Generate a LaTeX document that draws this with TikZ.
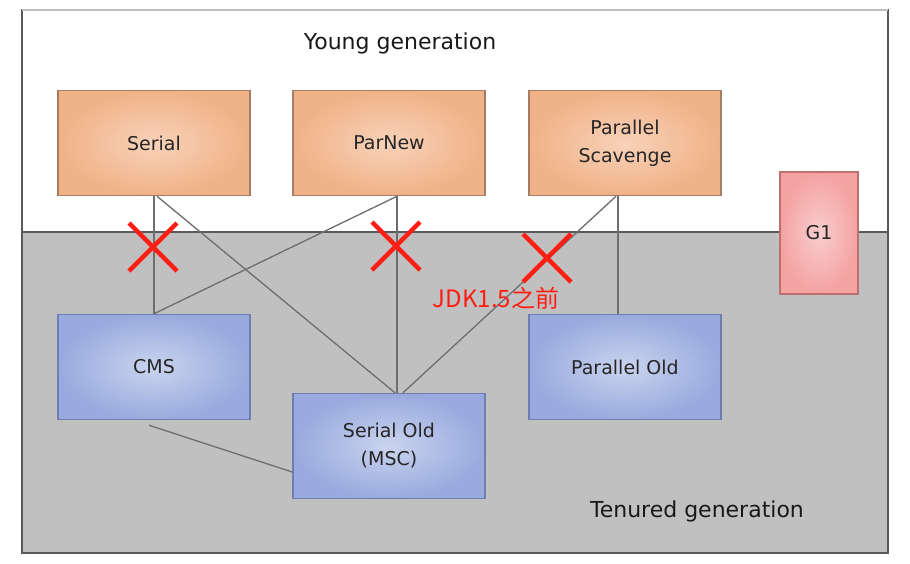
\documentclass[tikz,border=0pt]{standalone}
\usepackage{fontspec}
\setmainfont{DejaVu Sans}
\newfontfamily\cjkfuente{Noto Sans CJK SC}

\definecolor{naranjaBorde}{RGB}{165,125,100}
\definecolor{naranjaOscuro}{RGB}{240,178,135}
\definecolor{naranjaClaro}{RGB}{248,210,186}
\definecolor{azulBorde}{RGB}{110,125,178}
\definecolor{azulOscuro}{RGB}{152,170,222}
\definecolor{azulClaro}{RGB}{202,212,238}
\definecolor{rosaBorde}{RGB}{190,112,112}
\definecolor{rosaOscuro}{RGB}{244,162,162}
\definecolor{rosaClaro}{RGB}{249,205,205}
\definecolor{fondoGris}{RGB}{192,192,192}
\definecolor{lineaGris}{RGB}{110,110,110}
\definecolor{rojoCruz}{RGB}{255,30,20}

\tikzset{
  caja/.style={rectangle, draw=#1Borde, line width=1.5pt,
    minimum width=192pt, minimum height=105pt,
    shade, inner color=#1Claro, outer color=#1Oscuro,
    font=\fontsize{19}{28}\selectfont, text=black!85, align=center},
  conexion/.style={draw=lineaGris, line width=1.3pt},
  marco/.style={draw=black!65, line width=1.8pt},
  titulo/.style={font=\fontsize{22}{26}\selectfont, text=black!90},
  cruz/.style={draw=rojoCruz, line width=4.5pt}
}

\begin{document}
\begin{tikzpicture}[x=1pt,y=-1pt]
  % Fondo y marco
  \useasboundingbox[fill=white] (0,0) rectangle (910,563);
  \fill[fondoGris] (22,232) rectangle (888,553);
  \draw[marco] (22,10) rectangle (888,553);
  \draw[marco, draw=black!25] (22,10) -- (888,10);
  \draw[marco] (22,232) -- (888,232);

  % Generacion joven
  \node[caja=naranja] (serial) at (154,143) {Serial};
  \node[caja=naranja] (parnew) at (389,143) {ParNew};
  \node[caja=naranja] (scavenge) at (625,143) {Parallel\\Scavenge};
  \node[caja=rosa, minimum width=78pt, minimum height=122pt] (g1) at (819,233) {G1};

  % Generacion vieja
  \node[caja=azul] (cms) at (154,367) {CMS};
  \node[caja=azul] (serialold) at (389,446) {Serial Old\\(MSC)};
  \node[caja=azul] (parold) at (625,367) {Parallel Old};

  % Combinaciones
  \draw[conexion] (serial.south) -- (cms.north);
  \draw[conexion] ([xshift=3pt]serial.south) -- ([xshift=6pt]serialold.north);
  \draw[conexion] ([xshift=8pt]parnew.south) -- ([xshift=8pt]serialold.north);
  \draw[conexion] ([xshift=8pt]parnew.south) -- (cms.north);
  \draw[conexion] ([xshift=-9pt]scavenge.south) -- ([xshift=14pt]serialold.north);
  \draw[conexion] ([xshift=-7pt]scavenge.south) -- ([xshift=-7pt]parold.north);
  \draw[conexion] ([xshift=-5pt,yshift=-5pt]cms.south) -- ([yshift=-26pt]serialold.west);

  % Textos
  \node[titulo] (joven) at (400,43) {Young generation};
  \node[titulo] (vieja) at (697,511) {Tenured generation};
  \node[font=\cjkfuente\fontsize{24}{28}\selectfont, text=rojoCruz] (jdk) at (496,298) {JDK1.5之前};

  % Cruces
  \foreach \cx/\cy in {153/247, 396/246, 547/258}
    \draw[cruz] (\cx-24,\cy-24) -- (\cx+24,\cy+24) (\cx-24,\cy+24) -- (\cx+24,\cy-24);
\end{tikzpicture}
\end{document}
